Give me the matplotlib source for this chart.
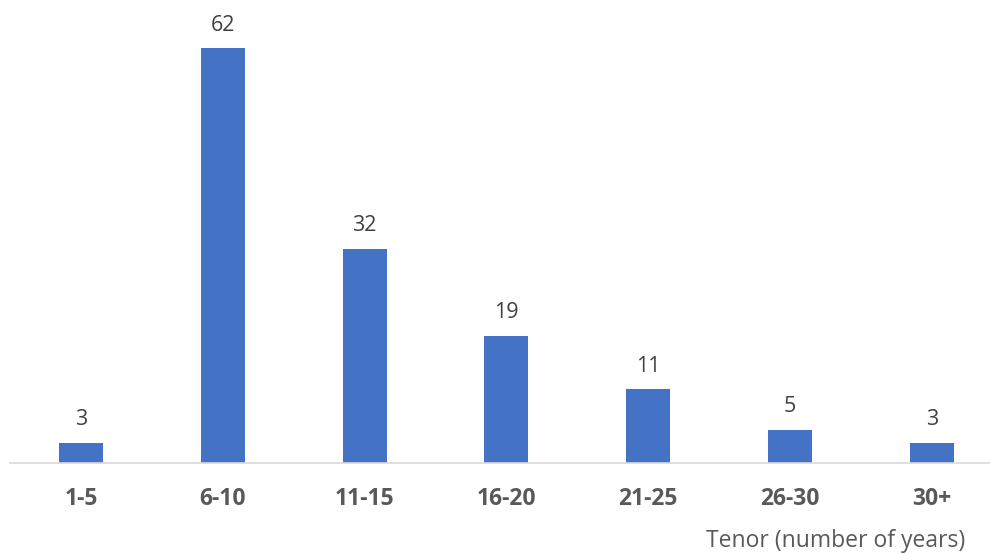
import numpy as np
import matplotlib.pyplot as plt

categories = ['1-5', '6-10', '11-15', '16-20', '21-25', '26-30', '30+']
counts = [3, 62, 32, 19, 11, 5, 3]

plt.rcParams['font.family'] = ['Open Sans', 'DejaVu Sans']

fig = plt.figure(figsize=(9.9, 5.54), dpi=100)
ax = fig.add_axes([10 / 990, 91 / 554, 980 / 990, 463 / 554])

x = np.arange(len(categories))
bars = ax.bar(x, counts, width=0.31, color='#4472C4', zorder=2)

# value labels above each bar
for xi, v in zip(x, counts):
    ax.annotate(str(v), (xi, v), xytext=(0, 9), textcoords='offset points',
                ha='center', va='bottom', fontsize=15.5, color='#404040')

ax.set_xlim(-0.5, 6.41)
ax.set_ylim(0, 69.2)
ax.set_xticks(x)
ax.set_xticklabels(categories, fontsize=16.5, fontweight='bold', color='#595959')
ax.tick_params(axis='x', length=0, pad=17)
ax.set_yticks([])
for s in ['top', 'right', 'left']:
    ax.spines[s].set_visible(False)
ax.spines['bottom'].set_color('#d9d9d9')
ax.spines['bottom'].set_linewidth(1.2)

fig.text(965 / 990, 1 - 541 / 554, 'Tenor (number of years)', ha='right', va='center',
         fontsize=16.5, color='#595959')

fig.savefig('out.png', dpi=100)
